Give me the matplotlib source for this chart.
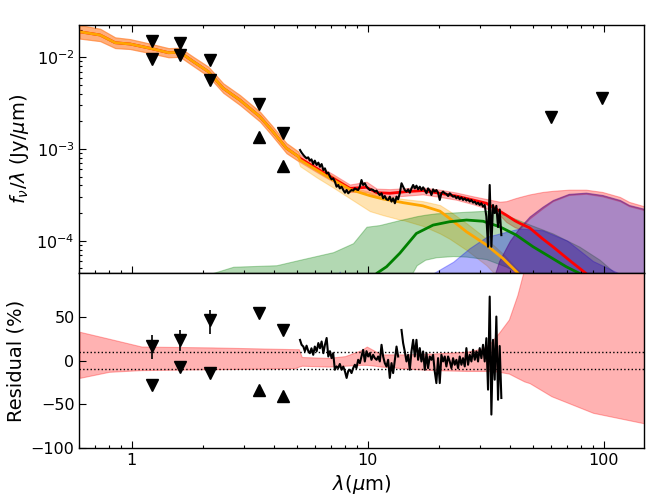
import numpy as np
import matplotlib
matplotlib.use('Agg')
import matplotlib.pyplot as plt
from matplotlib.ticker import FuncFormatter, NullFormatter

# ---- photometry (top panel) ----
phot_wl = [1.22, 1.60, 2.14, 3.47, 4.38]
phot_hi = [0.0152, 0.0142, 0.00935, 0.0031, 0.00151]      # 'v'
phot_lo = [0.0095, 0.0105, 0.00565, 0.00134, 0.00066]     # second epoch
phot_lo_mark = ['v', 'v', 'v', '^', '^']
limit_wl = [59.5, 98.0]
limit_flux = [0.00225, 0.0036]

# ---- residuals of photometry (%) ----
res_hi = [16.8, 23.7, 46.6, 54.2, 35.1]
res_hi_err_dn = [15, 13, 16, 0, 0]
res_hi_err_up = [13, 11, 11, 0, 0]
res_lo = [-27.9, -8.0, -14.5, -33.6, -40.5]

# ---- IRS spectrum ----
spec_wl = [5.16, 5.24, 5.33, 5.41, 5.50, 5.59, 5.68, 5.77, 5.87, 5.96,
           6.07, 6.17, 6.27, 6.37, 6.48, 6.58, 6.69, 6.80, 6.91, 7.02,
           7.13, 7.25, 7.37, 7.49, 7.61, 7.74, 7.87, 8.00, 8.13, 8.26,
           8.39, 8.53, 8.67, 8.81, 8.95, 9.10, 9.25, 9.40, 9.55, 9.71,
           9.87, 10.03, 10.19, 10.36, 10.53, 10.71, 10.89, 11.06, 11.24, 11.43,
           11.61, 11.80, 11.99, 12.19, 12.39, 12.60, 12.80, 13.02, 13.23, 13.44,
           13.66, 13.89, 14.11, 14.34, 14.58, 14.82, 15.06, 15.31, 15.56, 15.81,
           16.07, 16.33, 16.60, 16.87, 17.15, 17.43, 17.72, 18.00, 18.30, 18.60,
           18.90, 19.21, 19.52, 19.84, 20.17, 20.50, 20.84, 21.18, 21.52, 21.88,
           22.24, 22.60, 22.97, 23.35, 23.73, 24.12, 24.51, 24.92, 25.32, 25.74,
           26.16, 26.59, 27.02, 27.47, 27.92, 28.38, 28.84, 29.31, 29.79, 30.28,
           30.77, 31.28, 31.79, 32.31, 32.84, 33.38, 33.92, 34.48, 35.04, 35.62,
           36.20, 36.79]
# flux in units of 1e-4 Jy/um
spec_flux = [9.75, 9.12, 8.61, 8.24, 7.93, 8.11, 7.46, 7.71, 6.85, 7.46,
             6.70, 7.10, 6.41, 6.85, 5.90, 6.15, 5.43, 5.52, 4.99, 4.67,
             4.79, 4.41, 3.88, 4.05, 3.72, 3.88, 3.57, 3.34, 3.57, 3.29,
             3.43, 3.57, 3.52, 3.72, 3.63, 3.57, 3.88, 4.59, 4.05, 4.23,
             3.88, 3.72, 3.57, 3.63, 3.57, 3.43, 3.52, 3.29, 3.15, 3.29,
             2.90, 3.07, 2.83, 2.78, 3.02, 2.67, 2.90, 2.56, 3.02, 2.83,
             3.29, 4.23, 3.88, 3.57, 3.43, 3.63, 3.34, 3.72, 4.05, 3.72,
             3.98, 3.63, 3.88, 3.57, 3.82, 3.57, 3.29, 3.72, 3.52, 3.15,
             3.63, 3.43, 3.57, 3.34, 2.78, 3.29, 3.43, 3.29, 3.24, 3.07,
             3.29, 3.15, 3.02, 3.07, 2.90, 3.02, 2.83, 2.97, 2.78, 2.90,
             2.74, 2.83, 2.67, 2.78, 2.60, 2.67, 2.51, 2.60, 2.45, 2.56,
             2.35, 2.45, 1.83, 0.86, 4.05, 0.86, 2.45, 2.00, 2.40, 1.41,
             2.19, 1.15]
spec_res = [23.6, 18, 16, 10.7, 17, 11, 8.4, 14, 6.5, 16,
            10.7, 20, 14, 21.8, 8.4, 18, 25.8, 4.6, 10.7, 2.7,
            8.4, -10.6, -6.8, -8.7, -4, -10.6, -7, -12.5, -20, -12,
            -10.6, -14.4, -8.7, -4.9, -8.7, 0.8, -3, 4.6, 12.2, -1.1,
            10.7, 4.6, 8.4, 0.8, 6.5, 2.7, 0.8, 4.6, -1.1, 18,
            4.6, -3, -6.8, 0.8, -20, -3, -14.4, 0.8, 16, 4.6,
            np.nan, 35, 20, 10.4, -1.1, 6.5, -10.6, 10.4, 23.7, 4.6,
            23.7, 0.8, 14.2, -1.1, 10.4, -10.6, 8.5, -8.7, 4.6, 0.8,
            6.5, -12.5, -25.9, 2.7, -25.9, 6.5, -1.1, 4.6, -6.8, 4.6,
            -1.1, -8.7, 2.7, -4.9, 0.8, -8.7, 4.6, -4.9, 2.7, -6.8,
            14.2, -4.9, 6.5, -1.1, 12.3, 0.8, 10.4, -1.1, 14.2, 2.7,
            18, -1.1, 25.6, -33.4, 73.3, -62, 23.7, -22, 50.4, -45,
            16.6, -43]

# ---- stellar photosphere (orange) ----
star_wl = [0.6, 0.734, 0.85, 0.983, 1.195, 1.43, 1.60, 1.824, 2.11, 2.44,
           2.87, 3.49, 3.91, 4.52, 5.07, 5.16, 6.07, 7.13, 8.39, 10.2,
           11.6, 13.9, 14.1, 17.1, 20.2, 22.2, 26.2, 31.8, 37.4, 42.6, 50.0]
star_flux = [0.0190, 0.0175, 0.01442, 0.01396, 0.01254, 0.01122, 0.01135, 0.00896, 0.00697, 0.00459,
             0.00342, 0.00225, 0.00161, 0.00102, 8.3e-4, 7.6e-4, 5.9e-4, 4.59e-4, 3.63e-4, 3.1e-4,
             2.85e-4, 2.62e-4, 2.6e-4, 2.4e-4, 2.1e-4, 1.75e-4, 1.25e-4, 9.0e-5, 6.4e-5, 4.6e-5, 3.0e-5]
star_hi = [0.0225, 0.0205, 0.0165, 0.0158, 0.0141, 0.0126, 0.0127, 0.0101, 0.0079, 0.0052,
           0.00388, 0.00255, 0.00182, 0.00116, 9.4e-4, 8.2e-4, 6.3e-4, 5.1e-4, 3.9e-4, 3.4e-4,
           3.05e-4, 2.87e-4, 2.85e-4, 2.7e-4, 2.45e-4, 2.1e-4, 1.55e-4, 1.05e-4, 7.2e-5, 5.0e-5, 3.5e-5]
star_lo = [0.0160, 0.0150, 0.0126, 0.0123, 0.0111, 0.0100, 0.0101, 0.0080, 0.0062, 0.0041,
           0.00302, 0.00199, 0.00142, 0.00090, 7.4e-4, 6.5e-4, 4.9e-4, 3.8e-4, 2.9e-4, 2.1e-4,
           1.9e-4, 1.68e-4, 1.68e-4, 1.45e-4, 1.2e-4, 1.05e-4, 7.9e-5, 5.4e-5, 3.5e-5, 2.5e-5, 1.5e-5]

# ---- total model (red) ----
tot_wl = [0.6, 0.734, 0.85, 0.983, 1.195, 1.43, 1.60, 1.824, 2.11, 2.44,
          2.87, 3.49, 3.91, 4.52, 5.07, 5.16, 6.07, 7.13, 8.39, 9.87,
          10.9, 12.4, 14.6, 17.1, 20.2, 23.7, 27.9, 31.8, 36.2, 38.6,
          42.0, 44.0, 48.5, 55.0, 60.8, 71.0, 84.0, 98.6, 117.0, 128.0, 146.0, 150.0]
tot_flux = [0.0190, 0.0175, 0.01442, 0.01396, 0.01254, 0.01122, 0.01135, 0.00896, 0.00697, 0.00459,
            0.00342, 0.00225, 0.00161, 0.00102, 8.3e-4, 7.92e-4, 6.15e-4, 4.79e-4, 3.72e-4, 3.82e-4,
            3.34e-4, 3.29e-4, 3.43e-4, 3.52e-4, 3.29e-4, 3.07e-4, 2.78e-4, 2.56e-4, 2.1e-4, 1.9e-4,
            1.65e-4, 1.55e-4, 1.38e-4, 1.05e-4, 8.6e-5, 6.2e-5, 4.4e-5, 2.8e-5, 1.5e-5, 1.1e-5, 7e-6, 6e-6]
tot_hi = [0.0225, 0.0205, 0.0165, 0.0158, 0.0141, 0.0126, 0.0127, 0.0101, 0.0079, 0.0052,
          0.00388, 0.00255, 0.00182, 0.00116, 9.4e-4, 8.7e-4, 6.7e-4, 5.3e-4, 4.1e-4, 4.4e-4,
          3.7e-4, 3.65e-4, 3.75e-4, 3.8e-4, 3.6e-4, 3.35e-4, 3.05e-4, 2.85e-4, 2.66e-4, 2.7e-4,
          2.9e-4, 3.0e-4, 3.2e-4, 3.4e-4, 3.5e-4, 3.6e-4, 3.6e-4, 3.4e-4, 3.0e-4, 2.65e-4, 2.4e-4, 2.35e-4]
tot_lo = [0.0160, 0.0150, 0.0126, 0.0123, 0.0111, 0.0100, 0.0101, 0.0080, 0.0062, 0.0041,
          0.00302, 0.00199, 0.00142, 0.00090, 7.4e-4, 7.2e-4, 5.6e-4, 4.4e-4, 3.4e-4, 3.4e-4,
          3.05e-4, 3.0e-4, 3.1e-4, 3.2e-4, 3.0e-4, 2.8e-4, 2.5e-4, 2.25e-4, 1.9e-4, 1.6e-4,
          1.4e-4, 1.35e-4, 1.75e-4, 2.25e-4, 2.7e-4, 3.15e-4, 3.25e-4, 3.05e-4, 2.7e-4, 2.38e-4,
          2.18e-4, 2.13e-4]

# ---- warm dust (green) ----
grn_wl = [10.5, 10.9, 12.0, 13.66, 16.06, 18.9, 22.2, 26.2, 30.8, 36.2, 42.6, 50.1, 58.9, 69.3,
          78.9, 90.0]
grn_flux = [3.5e-5, 4.4e-5, 5.2e-5, 7.3e-5, 1.2e-4, 1.48e-4, 1.61e-4, 1.68e-4, 1.63e-4, 1.42e-4,
            1.15e-4, 8.6e-5, 6.7e-5, 5.2e-5, 4.4e-5, 3.0e-5]
grn_band_wl = [2.0, 2.18, 2.69, 4.1, 5.16, 7.13, 8.66, 9.87, 11.2, 13.66, 15.4, 16.1, 17.5, 19.5,
               23.0, 26.2, 31.7, 38.6, 46.9, 60.8, 78.9, 96.0, 112.0, 125.0]
grn_hi = [3.8e-5, 4.4e-5, 5.2e-5, 5.4e-5, 6.2e-5, 7.5e-5, 9.4e-5, 1.42e-4, 1.48e-4, 1.68e-4, 1.8e-4,
          1.85e-4, 1.92e-4, 1.99e-4, 2.03e-4, 2.07e-4, 2.12e-4, 1.9e-4, 1.55e-4, 1.2e-4, 8.6e-5,
          6.2e-5, 4.4e-5, 3.0e-5]
grn_lo = [1e-5, 1e-5, 1e-5, 1e-5, 1e-5, 1e-5, 1e-5, 1e-5, 1e-5, 1.5e-5, 4.4e-5,
          5.4e-5, 6.2e-5, 6.6e-5, 6.8e-5, 6.7e-5, 6.3e-5, 5.2e-5, 4.0e-5, 2.8e-5, 1.8e-5,
          1.2e-5, 1e-5, 1e-5]

# ---- cool dust (blue) ----
blu_wl = [6.0, 7.2, 7.6, 8.0, 9.5, 15.0, 18.9, 23.0, 27.0, 31.8, 38.6, 44.0, 55.0, 70.0,
          90.0, 116.0, 130.0]
blu_hi = [2e-5, 3e-5, 4.6e-5, 3e-5, 2e-5, 2e-5, 4.4e-5, 5.9e-5, 8.3e-5, 1.1e-4, 1.25e-4, 1.36e-4,
          1.3e-4, 1.0e-4, 6.0e-5, 4.4e-5, 2e-5]

# ---- cold dust (purple) ----
pur_wl = [33.0, 36.0, 40.0, 44.0, 48.5, 55.0, 60.8, 71.0, 84.0, 98.6, 117.0, 128.0, 146.0, 150.0]
pur_hi = [3e-5, 6e-5, 1.0e-4, 1.4e-4, 1.84e-4, 2.35e-4, 2.78e-4, 3.24e-4, 3.34e-4, 3.15e-4,
          2.78e-4, 2.45e-4, 2.25e-4, 2.2e-4]

# ---- model uncertainty in residual panel (%) ----
rband_wl = [0.6, 0.8, 1.1, 2.2, 4.9, 5.1, 5.25, 6.8, 8.0, 9.4, 9.9, 10.7, 11.4, 13.0,
            14.0, 18.9, 26.2, 30.7, 33.0, 36.0, 39.6, 43.0, 46.0, 48.5, 60.0, 90.0, 148.0]
rband_hi = [33, 25, 16, 15, 13, 13, 4, 3, 5, 12, 16, 11, 7, 7,
            7, 8, 10, 14, 20, 32, 47, 75, 105, 125, 150, 200, 220]
rband_lo = [-20, -13, -11, -10, -9, -7, -6, -7, -6, -5, -5, -6, -7, -8,
            -9, -11, -12, -12, -12, -13, -15, -20, -24, -26, -41, -60, -72]


def style_axis(ax, top):
    ax.set_xscale('log')
    ax.tick_params(which='both', direction='in', top=top, right=False,
                   labelsize=11.5, width=0.8)
    ax.tick_params(which='major', length=5)
    ax.tick_params(which='minor', length=2.5)
    for sp in ax.spines.values():
        sp.set_linewidth(1.0)


fig = plt.figure(figsize=(6.64, 4.98), dpi=100)
ax1 = fig.add_axes([0.1197, 0.4512, 0.8502, 0.4992])
ax2 = fig.add_axes([0.1197, 0.1010, 0.8502, 0.3502], sharex=ax1)

# top panel: bands
ax1.fill_between(tot_wl, tot_lo, tot_hi, color='red', alpha=0.3, lw=0.8)
star_wl_a = np.array(star_wl)
ax1.fill_between(star_wl, star_lo, star_hi, color='orange', alpha=0.3, lw=0.8,
                 where=(star_wl_a <= 13.9) | (star_wl_a >= 14.1))
ax1.fill_between(grn_band_wl, grn_lo, grn_hi, color='green', alpha=0.3, lw=0.8)
ax1.fill_between(blu_wl, 1e-6, blu_hi, color='blue', alpha=0.3, lw=0.8)
ax1.fill_between(pur_wl, 1e-6, pur_hi, color='indigo', alpha=0.47, lw=0.8)

# model lines
ax1.plot(tot_wl, tot_flux, color='red', lw=2)
ax1.plot(star_wl, star_flux, color='orange', lw=2)
ax1.plot(grn_wl, grn_flux, color='green', lw=2)

# spectrum and photometry
ax1.plot(spec_wl, np.array(spec_flux) * 1e-4, color='black', lw=1.5)
ax1.plot(phot_wl, phot_hi, 'v', color='black', ms=8)
for w, f, m in zip(phot_wl, phot_lo, phot_lo_mark):
    ax1.plot(w, f, m, color='black', ms=8)
ax1.plot(limit_wl, limit_flux, 'v', color='black', ms=8)

style_axis(ax1, True)
ax1.set_yscale('log')
ax1.set_xlim(0.6, 148)
ax1.set_ylim(4.41e-5, 2.267e-2)
ax1.tick_params(labelbottom=False)
ax1.set_ylabel(r'$f_\nu/\lambda$ (Jy/$\mu$m)', fontsize=14)

# residual panel
ax2.fill_between(rband_wl, rband_lo, rband_hi, color='red', alpha=0.3, lw=0.8)
ax2.axhline(10, color='black', ls=':', lw=1)
ax2.axhline(-10, color='black', ls=':', lw=1)
ax2.plot(spec_wl, spec_res, color='black', lw=1.5)
ax2.errorbar(phot_wl, res_hi, yerr=[res_hi_err_dn, res_hi_err_up], fmt='v',
             color='black', ms=8, elinewidth=1.2, capsize=0)
for w, r, m in zip(phot_wl, res_lo, phot_lo_mark):
    ax2.plot(w, r, m, color='black', ms=8)

style_axis(ax2, False)
ax2.set_ylim(-100, 100)
ax2.set_yticks([-100, -50, 0, 50])
ax2.set_xlim(0.6, 148)
ax2.xaxis.set_major_formatter(FuncFormatter(lambda v, p: '%g' % v))
ax2.xaxis.set_minor_formatter(NullFormatter())
ax2.set_ylabel('Residual (%)', fontsize=14)
ax2.set_xlabel(r'$\lambda(\mu$m)', fontsize=14)

fig.savefig('out.png', dpi=100)
plt.close(fig)
